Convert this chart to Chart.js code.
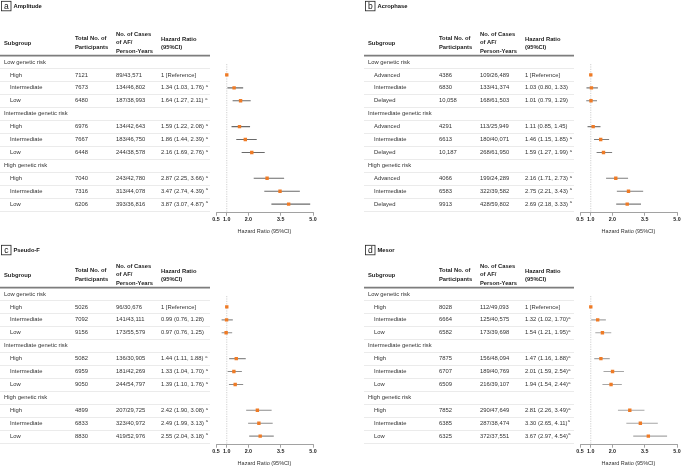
<!DOCTYPE html>
<html>
<head>
<meta charset="utf-8">
<script src="https://cdn.jsdelivr.net/npm/chart.js@4.4.1/dist/chart.umd.min.js"></script>
<style>
    html, body { margin: 0; padding: 0; background: #fff; width: 683px; height: 467px; overflow: hidden; }
    canvas { position: absolute; }
</style>
</head>
<body>
<canvas id="chart-a" width="341" height="236" style="left:0;top:0"></canvas>
<canvas id="chart-b" width="319" height="236" style="left:364px;top:0"></canvas>
<canvas id="chart-c" width="341" height="236" style="left:0;top:232px"></canvas>
<canvas id="chart-d" width="319" height="236" style="left:364px;top:232px"></canvas>
<script>
// ---- data ----
const groups = ['Low genetic risk', 'Intermediate genetic risk', 'High genetic risk'];
const xTicks = [0.5, 1.0, 2.0, 3.5, 5.0];

// a - Amplitude
const ampLevels = ['High', 'Intermediate', 'Low'];
const ampTotals = ['7121', '7673', '6480', '6976', '7667', '6448', '7040', '7316', '6206'];
const ampCases  = ['89/43,571', '134/46,802', '187/38,993', '134/42,643', '183/46,750', '244/38,578', '243/42,780', '313/44,078', '393/36,816'];
const ampHR = [1, 1.34, 1.64, 1.59, 1.86, 2.16, 2.87, 3.47, 3.87];
const ampLo = [null, 1.03, 1.27, 1.22, 1.44, 1.69, 2.25, 2.74, 3.07];
const ampHi = [null, 1.76, 2.11, 2.08, 2.39, 2.76, 3.66, 4.39, 4.87];

// b - Acrophase
const acroLevels = ['Advanced', 'Intermediate', 'Delayed'];
const acroTotals = ['4386', '6830', '10,058', '4291', '6613', '10,187', '4066', '6583', '9913'];
const acroCases  = ['109/26,489', '133/41,374', '168/61,503', '113/25,949', '180/40,071', '268/61,950', '199/24,289', '322/39,582', '428/59,802'];
const acroHR = [1, 1.03, 1.01, 1.11, 1.46, 1.59, 2.16, 2.75, 2.69];
const acroLo = [null, 0.80, 0.79, 0.85, 1.15, 1.27, 1.71, 2.21, 2.18];
const acroHi = [null, 1.33, 1.29, 1.45, 1.85, 1.99, 2.73, 3.43, 3.33];

// c - Pseudo-F
const pfLevels = ['High', 'Intermediate', 'Low'];
const pfTotals = ['5026', '7092', '9156', '5082', '6959', '9050', '4899', '6833', '8830'];
const pfCases  = ['96/30,676', '141/43,111', '173/55,579', '136/30,905', '181/42,269', '244/54,797', '207/29,725', '323/40,972', '419/52,976'];
const pfHR = [1, 0.99, 0.97, 1.44, 1.33, 1.39, 2.42, 2.49, 2.55];
const pfLo = [null, 0.76, 0.76, 1.11, 1.04, 1.10, 1.90, 1.99, 2.04];
const pfHi = [null, 1.28, 1.25, 1.88, 1.70, 1.76, 3.08, 3.13, 3.18];

// d - Mesor
const mesLevels = ['High', 'Intermediate', 'Low'];
const mesTotals = ['8028', '6664', '6582', '7875', '6707', '6509', '7852', '6385', '6325'];
const mesCases  = ['112/49,093', '125/40,575', '173/39,698', '156/48,094', '189/40,769', '216/39,107', '290/47,649', '287/38,474', '372/37,551'];
const mesHR = [1, 1.32, 1.54, 1.47, 2.01, 1.94, 2.81, 3.30, 3.67];
const mesLo = [null, 1.02, 1.21, 1.16, 1.59, 1.54, 2.26, 2.65, 2.97];
const mesHi = [null, 1.70, 1.95, 1.88, 2.54, 2.44, 3.49, 4.11, 4.54];

// ---- drawing ----
const FONT = '"Liberation Sans", Arial, sans-serif';
const ORANGE = '#ef7b26';

// row index of each estimate (group headers sit at 0, 4, 8)
const rowOf = i => Math.floor(i / 3) * 4 + (i % 3) + 1;

const fmt = v => v.toFixed(2);

const tablePlugin = {
    id: 'forestTable',
    afterDraw(chart, args, p) {
        const ctx = chart.ctx;
        const ys = chart.scales.y;
        const rowY = r => ys.getPixelForValue(r);
        ctx.save();

        // panel letter + title
        ctx.strokeStyle = '#222';
        ctx.lineWidth = 0.8;
        ctx.strokeRect(1.5, p.titleY - 4.7, 9.5, 9.5);
        ctx.fillStyle = '#111';
        ctx.textBaseline = 'middle';
        ctx.textAlign = 'center';
        ctx.font = `8.5px ${FONT}`;
        ctx.fillText(p.letter, 6.3, p.titleY + 0.3);
        ctx.textAlign = 'left';
        ctx.font = `bold 5.8px ${FONT}`;
        ctx.fillText(p.title, 13.5, p.titleY);

        // header
        ctx.fillStyle = '#222';
        ctx.fillText('Subgroup', 4, 43.3);
        [['Total No. of', 38.5], ['Participants', 47.3]].forEach(([t, y]) => ctx.fillText(t, 75, y));
        [['No. of Cases', 34.7], ['of AF/', 42.7], ['Person-Years', 51]].forEach(([t, y]) => ctx.fillText(t, 116, y));
        [['Hazard Ratio', 39], ['(95%CI)', 47.3]].forEach(([t, y]) => ctx.fillText(t, 161, y));

        // row rules
        ctx.strokeStyle = '#e6e6e6';
        ctx.lineWidth = 0.8;
        for (let r = 0; r < 12; r++) {
            const y = Math.round(rowY(r + 0.5)) + 0.5;
            ctx.beginPath(); ctx.moveTo(0, y); ctx.lineTo(210, y); ctx.stroke();
        }
        ctx.strokeStyle = '#7d7d7d';
        ctx.lineWidth = 1.8;
        const y0 = rowY(-0.5);
        ctx.beginPath(); ctx.moveTo(0, y0); ctx.lineTo(210, y0); ctx.stroke();

        // body
        ctx.font = `5.85px ${FONT}`;
        ctx.fillStyle = '#333';
        groups.forEach((g, gi) => ctx.fillText(g, 4, rowY(gi * 4)));
        p.hr.forEach((hr, i) => {
            const y = rowY(rowOf(i));
            ctx.fillStyle = '#333';
            ctx.font = `5.85px ${FONT}`;
            ctx.fillText(p.levels[i % 3], 10, y);
            ctx.fillText(p.totals[i], 75, y);
            ctx.fillText(p.cases[i], 116, y);
            if (p.lo[i] === null) {
                ctx.fillText('1 [Reference]', 161, y);
                return;
            }
            const s = `${fmt(hr)} (${fmt(p.lo[i])}, ${fmt(p.hi[i])})` + (p.tight ? '' : ' ');
            ctx.fillText(s, 161, y);
            if (p.lo[i] > 1) {
                const w = ctx.measureText(s).width;
                ctx.font = `4px ${FONT}`;
                ctx.fillText('a', 161 + w + 0.3, y - 1.8);
            }
        });
        ctx.restore();
    }
};

function forestChart(id, cfg) {
    const canvas = document.getElementById(id);
    const rows = cfg.hr.map((_, i) => rowOf(i));
    const datasets = [
        {
            type: 'scatter',
            data: cfg.hr.map((v, i) => ({ x: v, y: rows[i] })),
            pointStyle: 'rect',
            pointRadius: 2.4,
            backgroundColor: ORANGE,
            borderColor: ORANGE,
            borderWidth: 0,
        },
    ];
    cfg.hr.forEach((v, i) => {
        if (cfg.lo[i] === null) return;
        datasets.push({
            type: 'line',
            data: [{ x: cfg.lo[i], y: rows[i] }, { x: cfg.hi[i], y: rows[i] }],
            borderColor: cfg.ciColor,
            borderWidth: 1.1,
            pointRadius: 0,
        });
    });
    // reference line at HR = 1
    datasets.push({
        type: 'line',
        data: [{ x: 1, y: 0.155 }, { x: 1, y: 11.665 }],
        borderColor: '#c4c4c4',
        borderWidth: 0.8,
        borderDash: [1.2, 1.2],
        pointRadius: 0,
    });

    return new Chart(canvas, {
        type: 'scatter',
        data: { datasets },
        options: {
            responsive: false,
            animation: false,
            events: [],
            layout: { padding: { left: 216, right: canvas.width - 313, top: 64, bottom: 0 } },
            plugins: {
                legend: { display: false },
                tooltip: { enabled: false },
                forestTable: cfg,
            },
            scales: {
                x: {
                    type: 'linear',
                    min: 0.5,
                    max: 5,
                    afterBuildTicks: axis => { axis.ticks = xTicks.map(v => ({ value: v })); },
                    afterFit: axis => { axis.height = 23.3; },
                    ticks: {
                        callback: v => v.toFixed(1),
                        font: { family: FONT, size: 5.3, weight: 'bold' },
                        color: '#222',
                        padding: 0.3,
                        maxRotation: 0,
                        autoSkip: false,
                    },
                    grid: { drawOnChartArea: false, drawTicks: true, tickLength: 3, color: '#8a8a8a', lineWidth: 0.8 },
                    border: { display: true, color: '#8a8a8a', width: 0.8 },
                    title: {
                        display: true,
                        text: 'Hazard Ratio (95%CI)',
                        font: { family: FONT, size: 5.5 },
                        color: '#333',
                        padding: { top: 0, bottom: 1 },
                    },
                },
                y: {
                    type: 'linear',
                    reverse: true,
                    min: 0.155,
                    max: 11.665,
                    display: false,
                },
            },
        },
        plugins: [tablePlugin],
    });
}

forestChart('chart-a', { letter: 'a', title: 'Amplitude', titleY: 6, levels: ampLevels, totals: ampTotals, cases: ampCases, hr: ampHR, lo: ampLo, hi: ampHi, ciColor: '#6a6a6a' });
forestChart('chart-b', { letter: 'b', title: 'Acrophase', titleY: 6, levels: acroLevels, totals: acroTotals, cases: acroCases, hr: acroHR, lo: acroLo, hi: acroHi, ciColor: '#7c7c7c' });
forestChart('chart-c', { letter: 'c', title: 'Pseudo-F', titleY: 18, levels: pfLevels, totals: pfTotals, cases: pfCases, hr: pfHR, lo: pfLo, hi: pfHi, ciColor: '#8c8c8c' });
forestChart('chart-d', { letter: 'd', title: 'Mesor', titleY: 18, levels: mesLevels, totals: mesTotals, cases: mesCases, hr: mesHR, lo: mesLo, hi: mesHi, ciColor: '#a6a6a6', tight: true });
</script>
</body>
</html>
